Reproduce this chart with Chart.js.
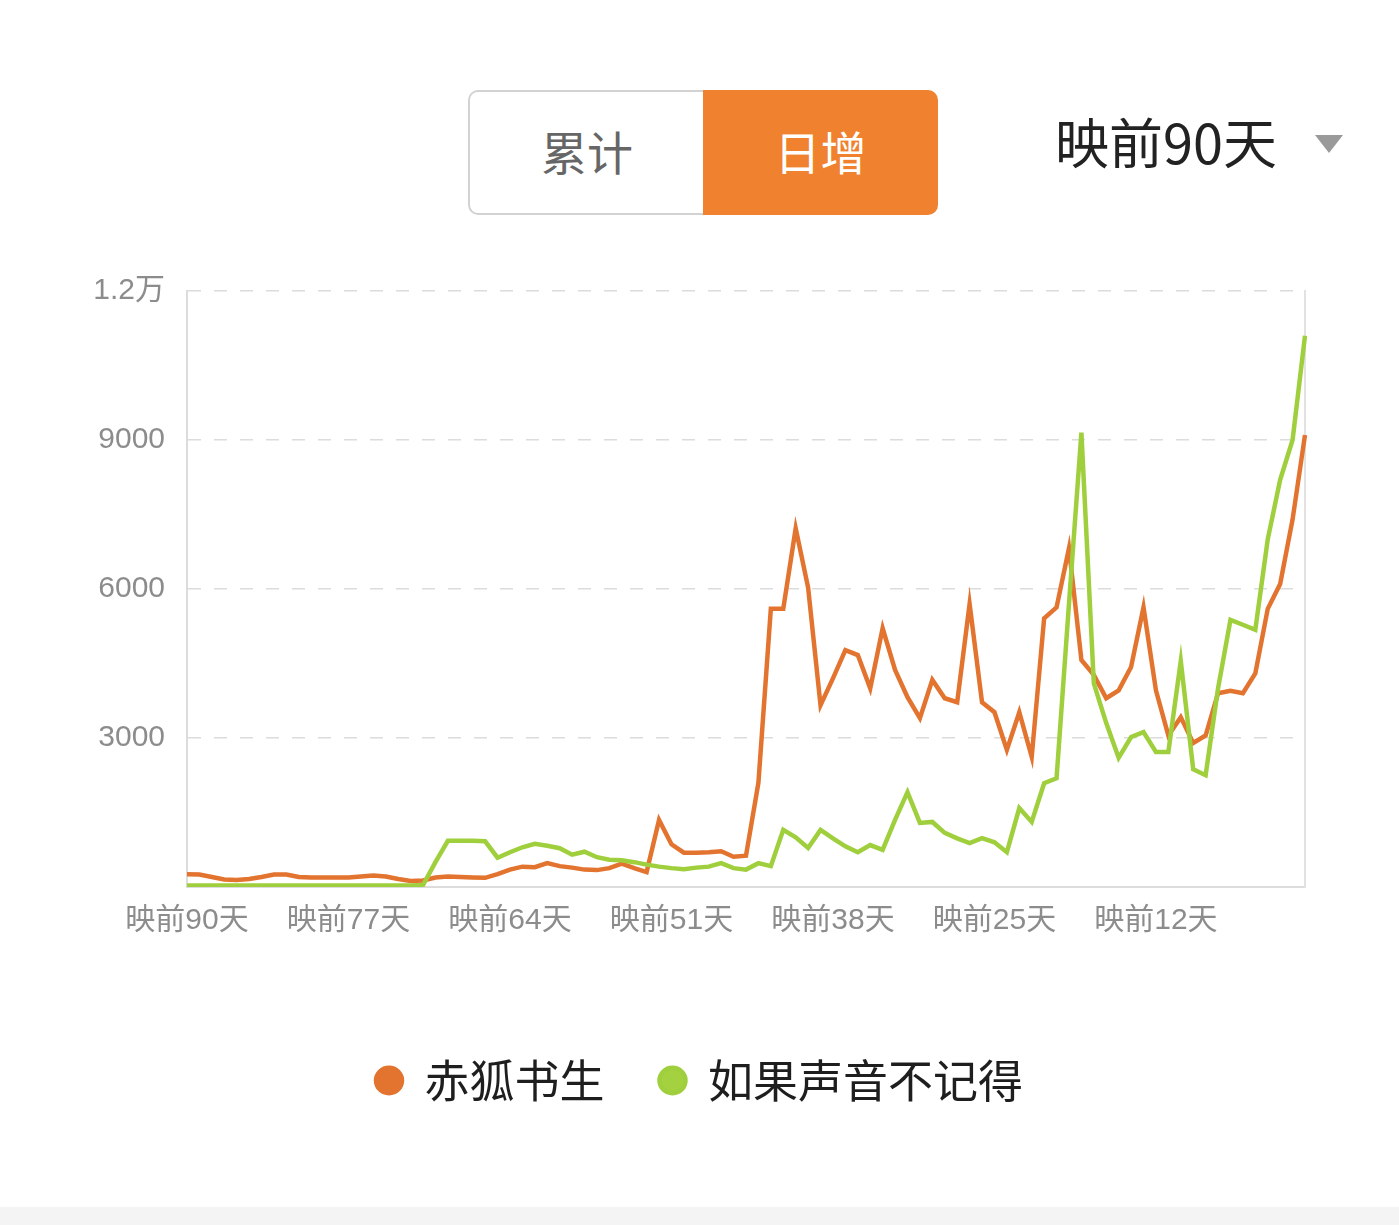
<!DOCTYPE html>
<html>
<head>
<meta charset="utf-8">
<script src="https://cdn.jsdelivr.net/npm/chart.js@4.4.0/dist/chart.umd.min.js"></script>
<style>
  body { margin:0; width:1399px; height:1225px; background:#fff; position:relative; overflow:hidden; font-family:'Noto Sans CJK SC', sans-serif; }
  .seg-left { position:absolute; left:468px; top:90px; width:236px; height:125px; box-sizing:border-box; border:2px solid #d2d2d2; border-right:none; border-radius:10px 0 0 10px; color:#666; font-size:46px; display:flex; align-items:center; justify-content:center; padding-bottom:6px; }
  .seg-right { position:absolute; left:703px; top:90px; width:235px; height:125px; box-sizing:border-box; background:#f0822f; border-radius:0 10px 10px 0; color:#fff; font-size:46px; display:flex; align-items:center; justify-content:center; padding-bottom:6px; }
  .range { position:absolute; left:1055px; top:104px; font-size:54px; color:#222; line-height:74px; }
  .caret { position:absolute; left:1315px; top:135px; width:0; height:0; border-left:14px solid transparent; border-right:14px solid transparent; border-top:18px solid #9a9a9a; }
  .footer { position:absolute; left:0; top:1207px; width:1399px; height:18px; background:#f4f4f4; }
  #chartBox { position:absolute; left:0; top:250px; }
</style>
</head>
<body>
<div class="seg-left">累计</div>
<div class="seg-right">日增</div>
<div class="range">映前90天</div>
<div class="caret"></div>
<div id="chartBox"><canvas id="lineChart" width="1399" height="863"></canvas></div>
<div class="footer"></div>

<script>
// x categories: 映前90天 ... 映前0天 (91 days)
const days = Array.from({ length: 91 }, (_, i) => 90 - i);
const categories = days.map(d => '映前' + d + '天');
const tickLabels = ['映前90天', '映前77天', '映前64天', '映前51天', '映前38天', '映前25天', '映前12天'];
const yTicks = [0, 3000, 6000, 9000, 12000];

// 赤狐书生 daily values
const chihu = [
  255, 250, 200, 150, 140, 160, 200, 250, 250, 200,
  190, 190, 190, 190, 210, 230, 210, 160, 120, 130,
  190, 210, 200, 190, 185, 260, 350, 410, 400, 480,
  420, 390, 350, 340, 380, 470, 380, 300, 1350, 860,
  690, 690, 700, 720, 610, 630, 2100, 5600, 5600, 7220,
  6030, 3660, 4200, 4770, 4670, 4000, 5210, 4370, 3820, 3400,
  4170, 3800, 3720, 5700, 3720, 3520, 2760, 3520, 2620, 5410,
  5630, 6820, 4570, 4270, 3800, 3960, 4430, 5630, 3960, 3050,
  3420, 2900, 3050, 3900, 3950, 3900, 4300, 5600, 6100, 7400,
  9100
];

// 如果声音不记得 daily values
const shengyin = [
  30, 30, 30, 30, 30, 30, 30, 30, 30, 30,
  30, 30, 30, 30, 30, 30, 30, 30, 30, 40,
  500, 930, 930, 930, 920, 590, 700, 800, 870, 830,
  780, 650, 710, 600, 550, 540, 500, 450, 410, 380,
  360, 390, 410, 480, 380, 350, 480, 420, 1150, 1000,
  785, 1150, 980, 820, 700, 845, 750, 1350, 1910, 1290,
  1310, 1090, 980, 885, 985, 900, 700, 1590, 1310, 2090,
  2190, 5700, 9150, 4100, 3300, 2600, 3020, 3120, 2720, 2720,
  4550, 2370, 2250, 4000, 5380, 5280, 5180, 7000, 8200, 9000,
  11100
];

const tickFont = { family: "'Liberation Sans', 'Noto Sans CJK SC', sans-serif", size: 30 };
const gridColor = '#dcdcdc';

const ctx = document.getElementById('lineChart').getContext('2d');
new Chart(ctx, {
  type: 'line',
  data: {
    labels: categories,
    datasets: [
      {
        label: '赤狐书生',
        data: chihu,
        borderColor: '#e3742f',
        backgroundColor: '#e3742f',
        borderWidth: 4.5,
        pointRadius: 0,
        tension: 0,
        order: 1
      },
      {
        label: '如果声音不记得',
        data: shengyin,
        borderColor: '#9fcf3c',
        backgroundColor: '#a3d13f',
        borderWidth: 4.5,
        pointRadius: 0,
        tension: 0,
        order: 0
      }
    ]
  },
  options: {
    responsive: false,
    animation: false,
    layout: { padding: { top: 41, right: 0, left: 0, bottom: 0 } },
    plugins: {
      tooltip: { enabled: false },
      legend: {
        position: 'bottom',
        reverse: true,
        labels: {
          usePointStyle: true,
          pointStyle: 'circle',
          boxHeight: 18,
          pointStyleWidth: 26,
          padding: 55,
          color: '#1e1e1e',
          font: { family: "'Noto Sans CJK SC', sans-serif", size: 45 }
        }
      }
    },
    scales: {
      x: {
        grid: { display: false },
        border: { display: true, color: gridColor, width: 2 },
        ticks: {
          autoSkip: false,
          maxRotation: 0,
          padding: 8,
          color: '#8c8c8c',
          font: tickFont,
          callback: function(val) {
            const lab = this.getLabelForValue(val);
            return tickLabels.includes(lab) ? lab : '';
          }
        },
        afterFit: s => { s.height = 116; }
      },
      y: {
        min: yTicks[0],
        max: yTicks[yTicks.length - 1],
        afterBuildTicks: s => { s.ticks = yTicks.map(v => ({ value: v })); },
        grid: {
          drawTicks: false,
          lineWidth: 1.5,
          color: c => (c.tick && c.tick.value === 0) ? 'rgba(0,0,0,0)' : gridColor
        },
        border: { display: true, color: gridColor, width: 2, dash: [13, 13] },
        ticks: {
          padding: 22,
          color: '#8c8c8c',
          font: tickFont,
          callback: v => v === 0 ? '' : (v >= 10000 ? (v / 10000) + '万' : v)
        },
        afterFit: s => { s.width = 187; }
      },
      // right-hand frame line only
      y2: {
        position: 'right',
        min: 0,
        max: 12000,
        grid: { display: false },
        ticks: { display: false },
        border: { display: true, color: '#e2e2e2', width: 2 },
        afterFit: s => { s.width = 94; }
      }
    }
  }
});
</script>
</body>
</html>
